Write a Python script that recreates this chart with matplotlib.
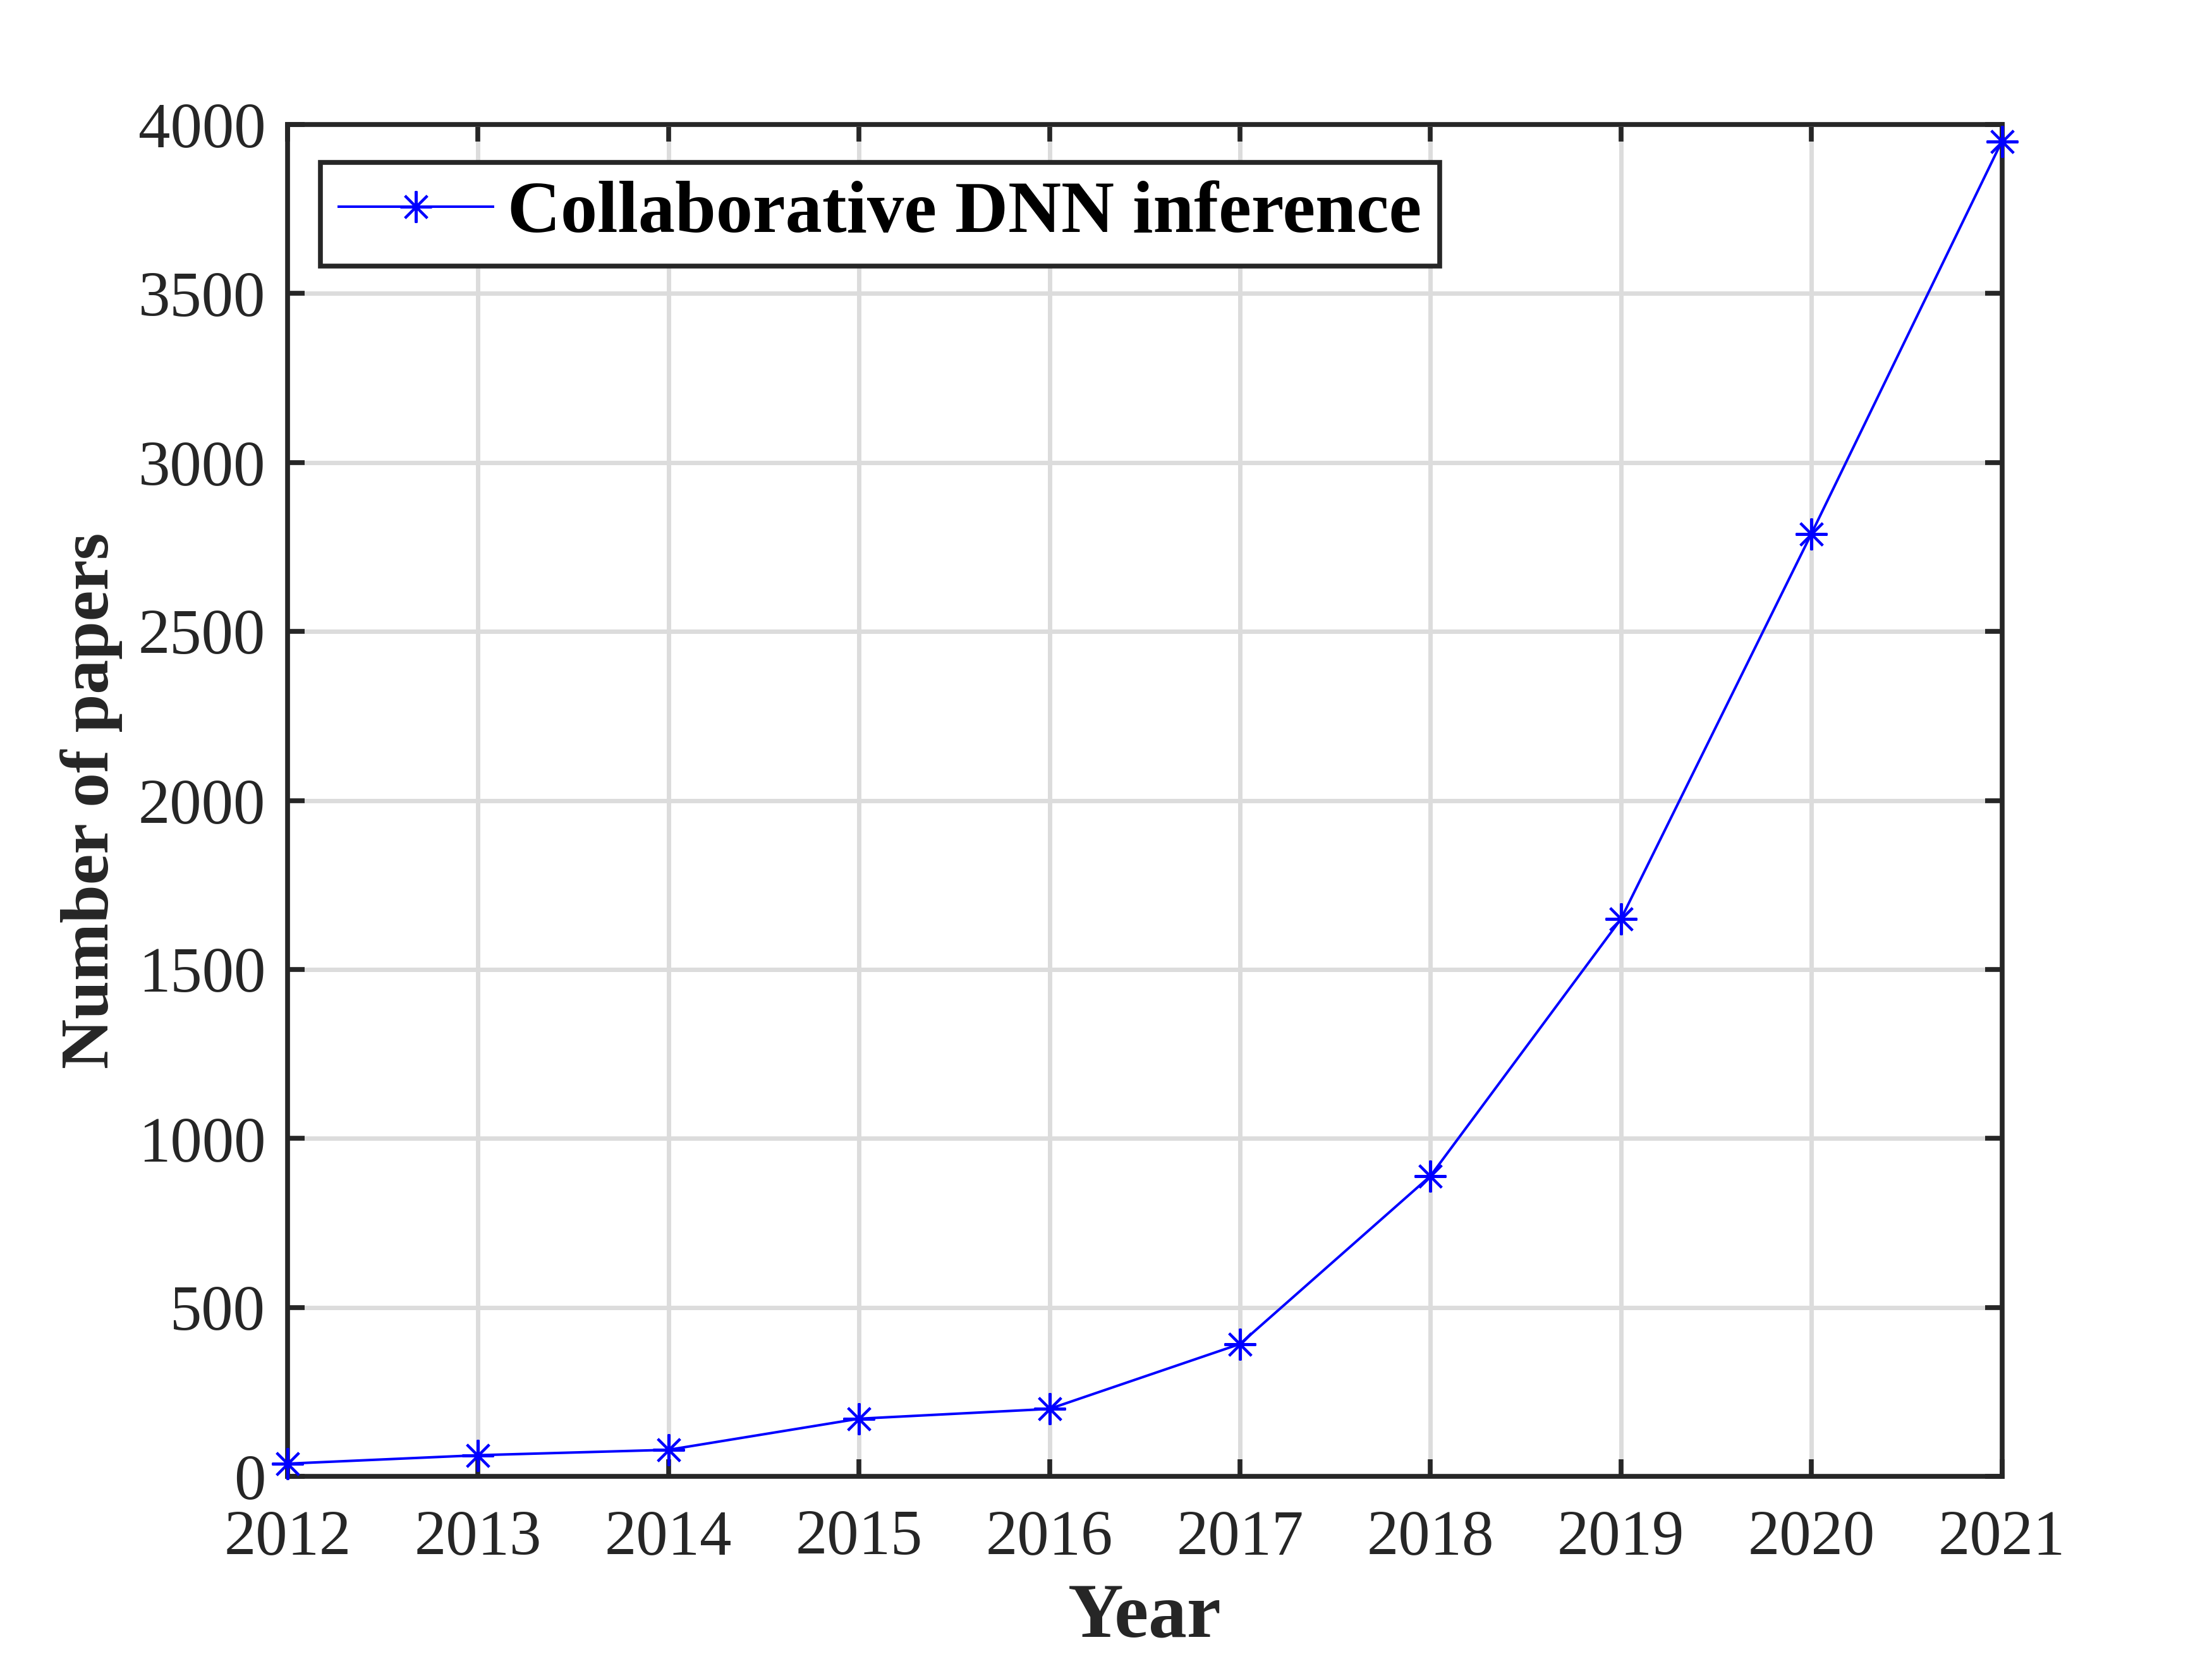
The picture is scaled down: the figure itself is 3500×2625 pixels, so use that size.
import matplotlib.pyplot as plt
import numpy as np

# papers per year
years = [2012, 2013, 2014, 2015, 2016, 2017, 2018, 2019, 2020, 2021]
papers = [38, 63, 79, 171, 200, 392, 889, 1649, 2789, 3950]
series_name = 'Collaborative DNN inference'
yticks = [0, 500, 1000, 1500, 2000, 2500, 3000, 3500, 4000]

plt.rcParams['font.family'] = ['Liberation Serif', 'DejaVu Serif']

axcolor = '#262626'

fig = plt.figure(figsize=(14, 10.5), dpi=250)
ax = fig.add_axes([0.13, 0.11, 0.775, 0.815])

ax.plot(years, papers, color='#0000ff', linewidth=1.15,
        marker=(8, 2, 0), markersize=14.4, markeredgewidth=1.15,
        label=series_name, clip_on=False, zorder=5)

ax.set_xlim(2012, 2021)
ax.set_ylim(0, 4000)
ax.set_xticks(years)
ax.set_yticks(yticks)

ax.grid(True, color='#dcdcdc', linewidth=2.0)
ax.set_axisbelow(True)

for s in ax.spines.values():
    s.set_linewidth(2.2)
    s.set_color(axcolor)
ax.tick_params(direction='in', length=7.8, width=2.2, color=axcolor,
               labelcolor=axcolor, labelsize=29, top=True, right=True)
ax.tick_params(axis='x', pad=15)
ax.tick_params(axis='y', pad=10)

ax.set_xlabel('Year', fontsize=35, fontweight='bold', color=axcolor, labelpad=7)
ax.set_ylabel('Number of papers', fontsize=31.5, fontweight='bold', color=axcolor, labelpad=7)

leg = ax.legend(loc='upper left', bbox_to_anchor=(0.019, 0.972), borderaxespad=0,
                prop={'size': 33.5, 'weight': 'bold'}, fancybox=False,
                framealpha=1, edgecolor=axcolor, handlelength=2.1,
                handletextpad=0.2, borderpad=0.25)
leg.get_frame().set_linewidth(2.2)

fig.savefig('out.png', dpi=250, facecolor='white')
